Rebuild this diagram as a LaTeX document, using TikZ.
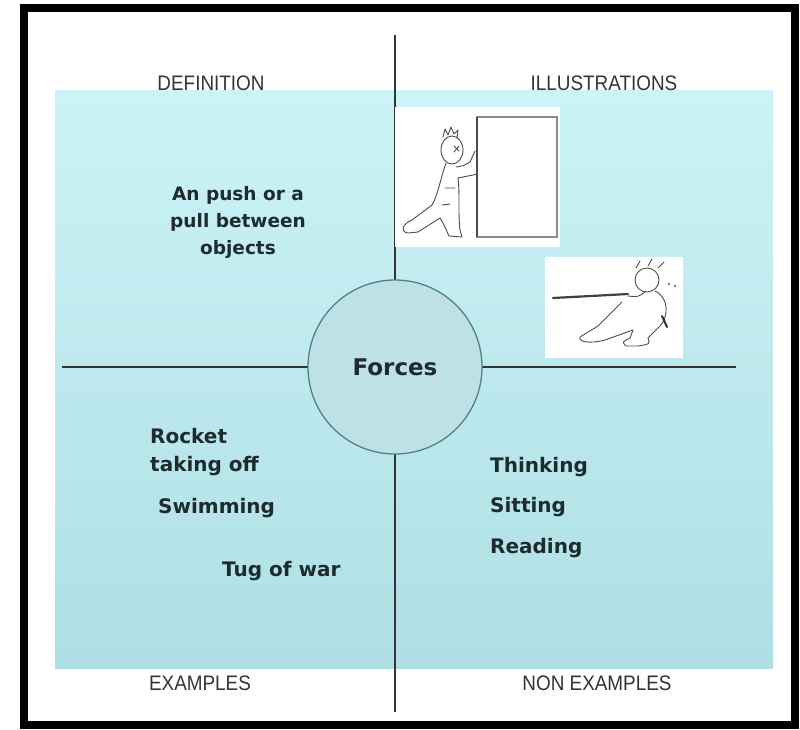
\documentclass[tikz,border=0pt]{standalone}
\usepackage{fontspec}
\setmainfont{DejaVu Sans}
\newfontfamily\capsfont{Liberation Sans}[FakeStretch=0.9]
\usetikzlibrary{positioning}

\definecolor{panelTop}{HTML}{CCF3F7}
\definecolor{panelBot}{HTML}{AEDFE4}
\definecolor{hubFill}{HTML}{BEE1E5}
\definecolor{hubLine}{HTML}{4E8288}
\definecolor{inkDark}{HTML}{1E2B2E}
\definecolor{inkGrey}{HTML}{333333}

\tikzset{
  quadlabel/.style={font=\capsfont\fontsize{21}{24}\selectfont, text=inkGrey},
  entry/.style={font=\bfseries\fontsize{20}{28}\selectfont, text=inkDark,
    align=left, inner sep=0pt, anchor=west},
  axis/.style={draw=black!80, line width=1.4},
  photo/.style={fill=white, draw=none, inner sep=0pt, anchor=north west},
  sketch/.style={draw=black!70, line width=0.9, line cap=round, line join=round},
}

\begin{document}
\begin{tikzpicture}[x=1pt, y=-1pt]
  \useasboundingbox (0,0) rectangle (800,729);

  % outer frame and coloured panel
  \draw[line width=8] (24,8) rectangle (795,725);
  \shade[top color=panelTop, bottom color=panelBot] (55,90) rectangle (773,668);

  % the cross that splits the four quadrants
  \coordinate (vtop) at (395,35);
  \coordinate (vbot) at (395,712);
  \coordinate (hleft) at (62,367);
  \coordinate (hright) at (736,367);
  \draw[axis] (vtop) -- (vbot);
  \draw[axis] (hleft) -- (hright);

  % centre circle
  \node[circle, minimum size=174, fill=hubFill, draw=hubLine, line width=1.3,
        font=\bfseries\fontsize{23}{26}\selectfont, text=inkDark] (forces) at (395,367) {Forces};

  % quadrant titles
  \node[quadlabel] (defhead) at (211,83) {DEFINITION};
  \node[quadlabel] (illhead) at (604,83) {ILLUSTRATIONS};
  \node[quadlabel] (exhead) at (200,683) {EXAMPLES};
  \node[quadlabel] (nonhead) at (597,683) {NON EXAMPLES};

  % definition
  \node[align=center, font=\bfseries\fontsize{18.5}{27}\selectfont, text=inkDark] (defn) at (238,222)
    {An push or a\\pull between\\objects};

  % examples
  \node[entry] (rocket) at (150,452) {Rocket\\taking off};
  \node[entry] (swim) at (158,508) {Swimming};
  \node[entry] (tug) at (222,571) {Tug of war};

  % non examples
  \node[entry] (think) at (490,467) {Thinking};
  \node[entry] (sit) at (490,507) {Sitting};
  \node[entry] (read) at (490,548) {Reading};

  % illustration 1: pushing a door
  \node[photo, minimum width=165, minimum height=140] (push) at (395,107) {};
  \draw[draw=black!45, line width=1.6] (477,117) rectangle (557,237);
  \draw[draw=black!70, line width=1.6] (477,117) -- (477,237);
  \draw[sketch] (452,150) ellipse [x radius=11, y radius=14];
  \draw[sketch] (443,137) -- (445,129) -- (448,135) -- (451,127) -- (454,134) -- (458,130) -- (457,138);
  \draw[sketch] (454,146) -- (459,151) (459,146) -- (454,152);
  \draw[sketch] (456,167) .. controls (463,166) .. (470,162) -- (475,151);
  \draw[sketch] (458,178) -- (478,174);
  \draw[sketch] (446,163) .. controls (440,180) and (438,195) .. (432,205) -- (412,220)
    .. controls (402,224) and (400,232) .. (408,233) -- (418,232) -- (440,218)
    .. controls (445,226) and (447,232) .. (449,236) -- (462,237) -- (460,230)
    .. controls (458,215) and (460,195) .. (458,178);
  \draw[sketch] (445,188) -- (455,188) (442,205) -- (450,204);

  % illustration 2: pulling a rope
  \node[photo, minimum width=138, minimum height=101] (pull) at (545,257) {};
  \draw[black!75, line width=2.2, line cap=round] (553,298) -- (628,294);
  \draw[sketch] (647,280) circle [radius=12];
  \draw[sketch] (636,268) -- (640,261) (648,266) -- (652,259) (658,268) -- (664,262);
  \fill[black!70] (669,284) circle [radius=1.2] (675,286) circle [radius=1.2];
  \draw[sketch] (628,296) .. controls (638,297) .. (645,292);
  \draw[sketch] (655,291) .. controls (670,298) and (668,318) .. (660,326) -- (648,338)
    .. controls (650,344) .. (638,346) -- (626,346) .. controls (622,342) .. (630,338)
    -- (633,330) -- (605,340) .. controls (590,344) and (578,342) .. (580,337)
    -- (598,326) -- (622,302);
  \draw[black!80, line width=2, line cap=round] (662,316) -- (667,327);
\end{tikzpicture}
\end{document}
